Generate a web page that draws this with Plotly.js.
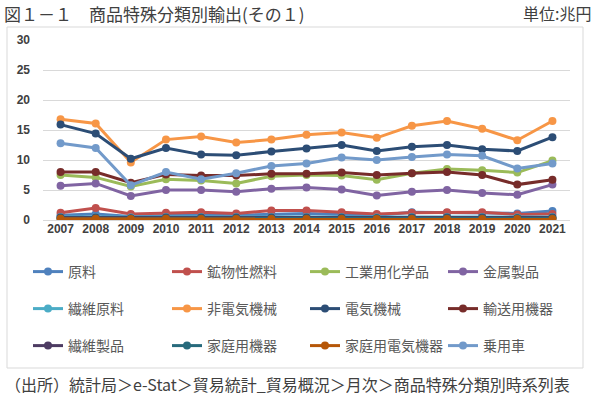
<!DOCTYPE html>
<html><head><meta charset="utf-8">
<script src="https://cdn.plot.ly/plotly-3.0.1.min.js"></script>
<style>html,body{margin:0;padding:0;background:#fff}#c{width:600px;height:396px}</style>
</head><body><div id="c"></div>
<script>
const years = ["2007","2008","2009","2010","2011","2012","2013","2014","2015","2016","2017","2018","2019","2020","2021"];
const names = ["原料","鉱物性燃料","工業用化学品","金属製品","繊維原料","非電気機械","電気機械","輸送用機器","繊維製品","家庭用機器","家庭用電気機器","乗用車"];
const colors = ["#4F81BD","#C0504D","#9BBB59","#8064A2","#4BACC6","#F79646","#2C4D75","#772C2A","#4D3B62","#276A7C","#B65708","#729ACA"];

const genryo      = [0.8,1.0,0.6,0.8,0.9,0.8,1.0,1.1,0.9,0.8,1.3,1.2,1.1,1.1,1.5];
const kobutsu     = [1.2,2.0,1.0,1.2,1.3,1.1,1.6,1.6,1.3,1.0,1.2,1.3,1.3,0.9,1.0];
const kagaku      = [7.5,7.1,5.6,6.8,6.6,6.1,7.3,7.5,7.4,6.7,7.8,8.5,8.3,7.9,9.9];
const kinzoku     = [5.7,6.1,4.0,5.0,5.0,4.7,5.2,5.4,5.1,4.1,4.7,5.0,4.5,4.2,5.9];
const sengen      = [0.5,0.5,0.4,0.5,0.5,0.5,0.5,0.5,0.5,0.4,0.5,0.5,0.5,0.4,0.5];
const hidenki     = [16.8,16.1,9.6,13.4,13.9,12.9,13.4,14.2,14.6,13.7,15.7,16.5,15.2,13.3,16.5];
const denki       = [15.9,14.4,10.2,12.0,10.9,10.8,11.4,11.9,12.5,11.5,12.2,12.5,11.8,11.5,13.8];
const yuso        = [8.0,8.0,6.2,7.6,7.4,7.4,7.7,7.7,7.9,7.5,7.8,8.0,7.5,5.9,6.7];
const seni        = [0.4,0.4,0.3,0.4,0.4,0.4,0.4,0.4,0.4,0.3,0.4,0.4,0.4,0.3,0.4];
const kateiki     = [0.3,0.3,0.2,0.3,0.3,0.3,0.3,0.3,0.3,0.3,0.3,0.3,0.3,0.3,0.3];
const kaden       = [0.2,0.2,0.15,0.2,0.15,0.15,0.15,0.15,0.15,0.15,0.15,0.15,0.15,0.15,0.15];
const jouyousha   = [12.8,12.0,5.8,8.0,6.8,7.8,9.0,9.4,10.4,10.0,10.5,10.9,10.7,8.6,9.4];

const series = [genryo,kobutsu,kagaku,kinzoku,sengen,hidenki,denki,yuso,seni,kateiki,kaden,jouyousha];

const traces = series.map((v,i)=>({
  type:"scatter", mode:"lines+markers", x:years, y:v, name:names[i],
  line:{color:colors[i], width:3},
  marker:{color:colors[i], size:8},
  legend: i===0 ? "legend" : "legend"+(i+1)
}));

const jp = '"Noto Sans CJK JP", "Noto Sans", sans-serif';
function ly(py){return (220-py)/180;}
function cy(py){return (396-py)/396;}
const colX = [28,167,305,443];
const rowY = [272,309,346];
const layout = {
  width:600, height:396,
  margin:{l:43, r:30, t:40, b:176},
  paper_bgcolor:"#fff", plot_bgcolor:"#fff",
  showlegend:true,
  xaxis:{type:"category", range:[-0.5,14.5], showgrid:false, zeroline:false, showline:false,
    ticks:"", tickfont:{family:'"Liberation Sans", Arial, sans-serif', size:12, color:"#404040", weight:"bold"}},
  yaxis:{range:[0,30], dtick:5, tick0:0, showgrid:true, gridcolor:"#d9d9d9", gridwidth:1,
    zeroline:true, zerolinecolor:"#d9d9d9", zerolinewidth:1, showline:false, ticks:"", ticklabelstandoff:12,
    tickfont:{family:'"Liberation Sans", Arial, sans-serif', size:12, color:"#404040", weight:"bold"}},
  shapes:[{type:"rect", xref:"paper", yref:"paper",
    x0:(7-43)/527, x1:(583-43)/527, y0:ly(368), y1:ly(27),
    line:{color:"#d9d9d9", width:1}, fillcolor:"rgba(0,0,0,0)", layer:"below"}],
  annotations:[
    {xref:"paper", yref:"paper", x:(2-43)/527, y:ly(13), xanchor:"left", yanchor:"middle", showarrow:false,
     text:"図１－１　商品特殊分類別輸出(その１)", font:{family:jp, size:17, color:"#404040"}},
    {xref:"paper", yref:"paper", x:(593-43)/527, y:ly(13), xanchor:"right", yanchor:"middle", showarrow:false,
     text:"単位:兆円", font:{family:jp, size:16, color:"#404040"}},
    {xref:"paper", yref:"paper", x:(3-43)/527, y:ly(384), xanchor:"left", yanchor:"middle", showarrow:false,
     text:"（出所）統計局＞e-Stat＞貿易統計_貿易概況＞月次＞商品特殊分類別時系列表", font:{family:jp, size:16, color:"#404040"}}
  ]
};
names.forEach((n,i)=>{
  const key = i===0 ? "legend" : "legend"+(i+1);
  layout[key] = {orientation:"h", xref:"container", yref:"container",
    x:colX[i%4]/600, y:cy(rowY[Math.floor(i/4)]), xanchor:"left", yanchor:"middle",
    itemwidth:30, font:{family:jp, size:14, color:"#595959"}, bgcolor:"rgba(0,0,0,0)"};
});
Plotly.newPlot("c", traces, layout, {displayModeBar:false, staticPlot:true});
</script></body></html>
